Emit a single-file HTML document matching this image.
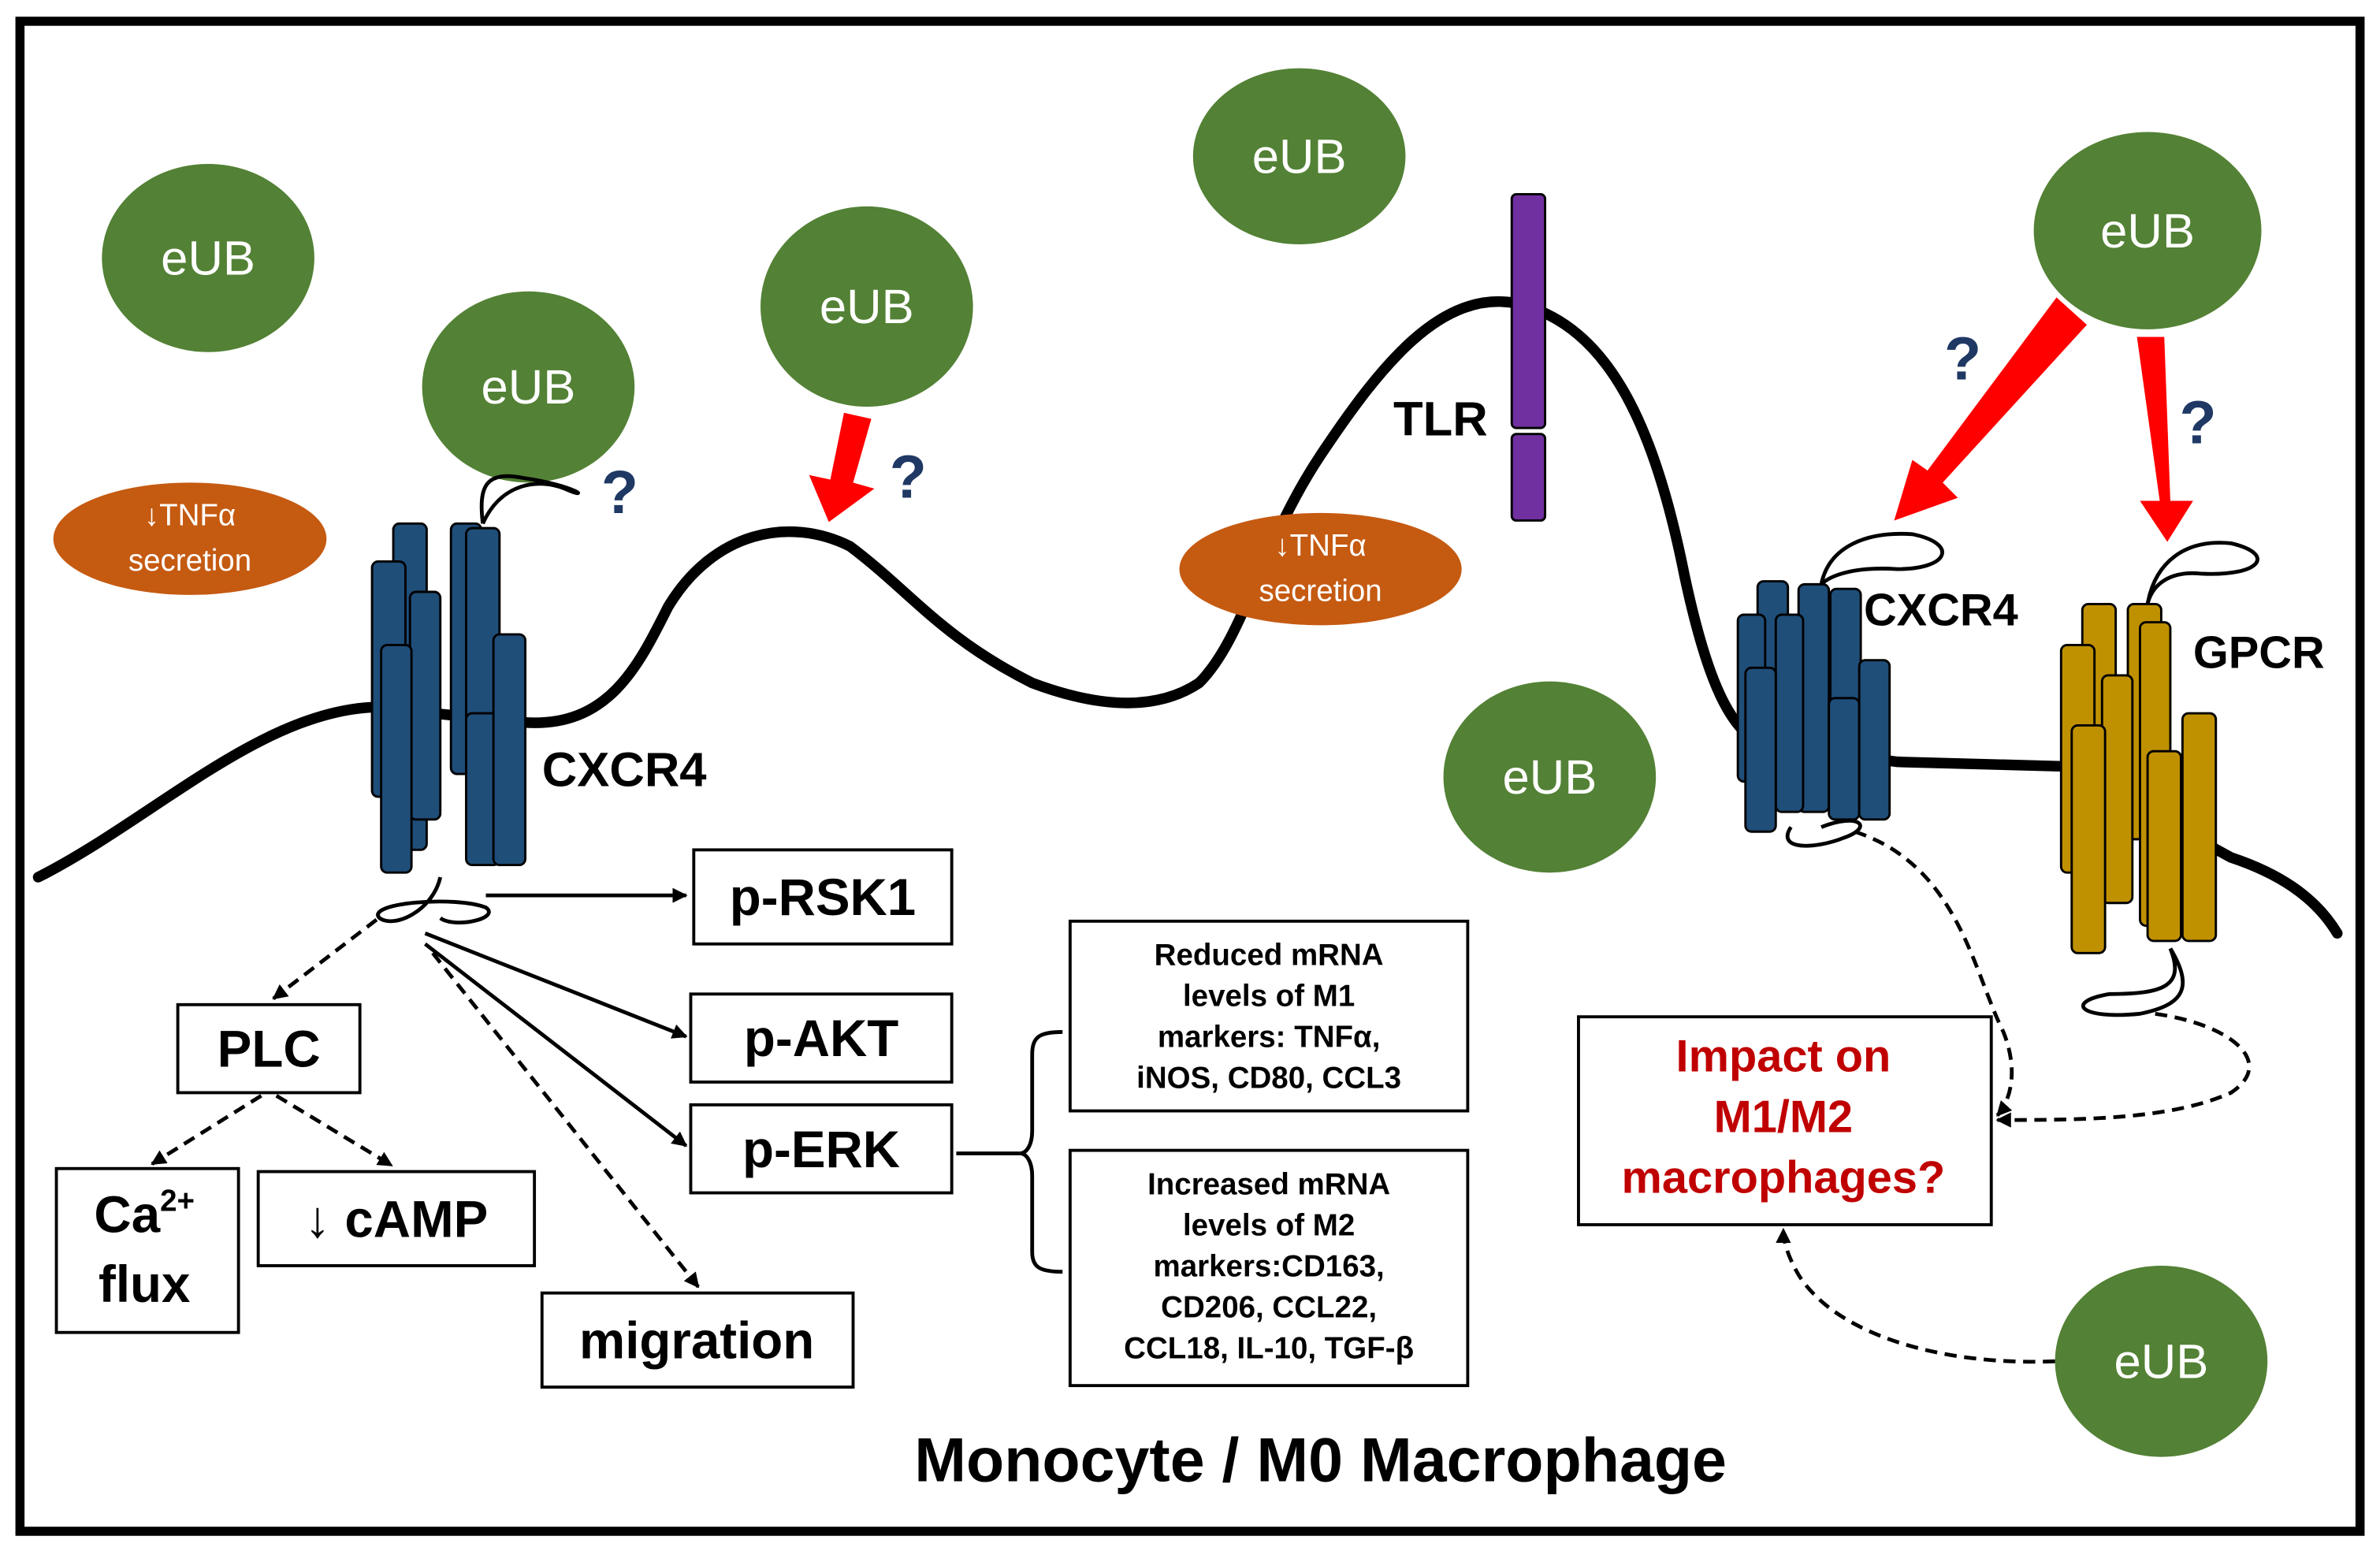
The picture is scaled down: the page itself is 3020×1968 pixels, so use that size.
<!DOCTYPE html>
<html><head><meta charset="utf-8"><style>
html,body{margin:0;padding:0;background:#fff}
svg{display:block}
text{font-family:"Liberation Sans",sans-serif}
</style></head><body>
<svg width="3020" height="1968" viewBox="0 0 1568 1022" xmlns="http://www.w3.org/2000/svg">
<defs>
<marker id="ah" markerWidth="10" markerHeight="10" refX="9" refY="5" orient="auto" markerUnits="userSpaceOnUse"><path d="M0,0 L10,5 L0,10 z" fill="#000"/></marker>
</defs>
<rect x="0" y="0" width="1568" height="1022" fill="#fff"/>
<rect x="13" y="14" width="1542" height="995" fill="none" stroke="#000" stroke-width="6"/>
<path d="M25,578 C100,540 170,470 245,466 L345,476 C400,480 420,440 440,400 C470,350 520,340 560,360 C600,390 620,420 680,450 C720,465 760,470 790,450 C820,420 830,360 870,300 C910,240 950,190 1000,200 C1060,215 1090,280 1110,380 C1125,450 1140,480 1160,490 L1250,502 L1360,505 L1470,565 C1500,575 1525,590 1540,615" fill="none" stroke="#000" stroke-width="7" stroke-linecap="round"/>
<g fill="#538135">
<ellipse cx="137" cy="170" rx="70" ry="62"/>
<ellipse cx="348" cy="255" rx="70" ry="63"/>
<ellipse cx="571" cy="202" rx="70" ry="66"/>
<ellipse cx="856" cy="103" rx="70" ry="58"/>
<ellipse cx="1415" cy="152" rx="75" ry="65"/>
<ellipse cx="1021" cy="512" rx="70" ry="63"/>
<ellipse cx="1424" cy="897" rx="70" ry="63"/>
</g>
<g fill="#fff" font-size="32" text-anchor="middle">
<text x="137" y="181">eUB</text><text x="348" y="266">eUB</text><text x="571" y="213">eUB</text>
<text x="856" y="114">eUB</text><text x="1415" y="163">eUB</text><text x="1021" y="523">eUB</text><text x="1424" y="908">eUB</text>
</g>
<ellipse cx="125" cy="355" rx="90" ry="37" fill="#c55a11"/>
<ellipse cx="870" cy="375" rx="93" ry="37" fill="#c55a11"/>
<g fill="#fff" font-size="20" text-anchor="middle">
<text x="125" y="346">↓TNFα</text><text x="125" y="376">secretion</text>
<text x="870" y="366">↓TNFα</text><text x="870" y="396">secretion</text>
</g>
<path d="M318,345 C315,320 320,310 345,315 C380,320 390,330 372,322 C355,315 330,318 318,345" fill="none" stroke="#000" stroke-width="2.5"/>
<path d="M290,578 C285,600 260,612 250,605 C240,595 300,590 320,598 C330,605 300,612 290,605" fill="none" stroke="#000" stroke-width="2.5"/>
<g fill="#1f4e79" stroke="#000" stroke-width="1.5">
<rect x="259" y="345" width="22" height="215" rx="4"/>
<rect x="245" y="370" width="22" height="155" rx="4"/>
<rect x="297" y="345" width="20" height="165" rx="4"/>
<rect x="270" y="390" width="20" height="150" rx="4"/>
<rect x="307" y="348" width="22" height="160" rx="4"/>
<rect x="251" y="425" width="20" height="150" rx="4"/>
<rect x="307" y="470" width="22" height="100" rx="4"/>
<rect x="325" y="418" width="21" height="152" rx="4"/>
</g>
<text x="357" y="518" font-size="32" font-weight="bold">CXCR4</text>
<rect x="996" y="128" width="22" height="154" rx="3" fill="#7030a0" stroke="#000" stroke-width="1.5"/>
<rect x="996" y="286" width="22" height="57" rx="3" fill="#7030a0" stroke="#000" stroke-width="1.5"/>
<text x="918" y="287" font-size="32" font-weight="bold">TLR</text>
<path d="M1200,385 C1205,360 1230,350 1260,352 C1290,358 1285,375 1250,375 C1220,373 1205,380 1200,385" fill="none" stroke="#000" stroke-width="2.5"/>
<path d="M1415,398 C1420,370 1440,355 1470,358 C1500,365 1490,380 1450,378 C1430,376 1418,385 1415,398" fill="none" stroke="#000" stroke-width="2.5"/>
<path d="M1180,545 C1170,560 1195,560 1215,552 C1235,545 1225,535 1200,545" fill="none" stroke="#000" stroke-width="2.5"/>
<path d="M1430,625 C1440,650 1425,655 1390,655 C1360,660 1370,672 1410,668 C1440,662 1445,650 1430,625" fill="none" stroke="#000" stroke-width="2.5"/>
<g fill="#1f4e79" stroke="#000" stroke-width="1.5">
<rect x="1158" y="383" width="20" height="125" rx="4"/>
<rect x="1185" y="385" width="20" height="150" rx="4"/>
<rect x="1206" y="388" width="20" height="108" rx="4"/>
<rect x="1145" y="405" width="18" height="110" rx="4"/>
<rect x="1170" y="405" width="18" height="130" rx="4"/>
<rect x="1150" y="440" width="20" height="108" rx="4"/>
<rect x="1205" y="460" width="20" height="80" rx="4"/>
<rect x="1225" y="435" width="20" height="105" rx="4"/>
</g>
<text x="1228" y="412" font-size="30" font-weight="bold">CXCR4</text>
<g fill="#bf9000" stroke="#000" stroke-width="1.5">
<rect x="1372" y="398" width="22" height="195" rx="4"/>
<rect x="1358" y="425" width="22" height="150" rx="4"/>
<rect x="1402" y="398" width="22" height="155" rx="4"/>
<rect x="1385" y="445" width="20" height="150" rx="4"/>
<rect x="1410" y="410" width="20" height="200" rx="4"/>
<rect x="1365" y="478" width="22" height="150" rx="4"/>
<rect x="1415" y="495" width="22" height="125" rx="4"/>
<rect x="1438" y="470" width="22" height="150" rx="4"/>
</g>
<text x="1445" y="440" font-size="30" font-weight="bold">GPCR</text>
<g fill="#ff0000">
<polygon points="556,272 574,276 562,318 576,322 546,344 533,313 547,316"/>
<polygon points="1355,196 1375,214 1280,318 1290,328 1248,343 1260,303 1270,310"/>
<polygon points="1408,222 1426,222 1430,330 1445,330 1428,357 1410,330 1423,330"/>
</g>
<g fill="#1f3864" font-size="40" font-weight="bold">
<text x="396" y="338">?</text><text x="586" y="328">?</text><text x="1281" y="250">?</text><text x="1436" y="292">?</text>
</g>
<g fill="#fff" stroke="#000" stroke-width="2">
<rect x="457" y="560" width="170" height="62"/>
<rect x="455" y="655" width="172" height="58"/>
<rect x="455" y="728" width="172" height="58"/>
<rect x="117" y="662" width="120" height="58"/>
<rect x="37" y="770" width="120" height="108"/>
<rect x="170" y="772" width="182" height="62"/>
<rect x="357" y="852" width="205" height="62"/>
<rect x="705" y="607" width="262" height="125"/>
<rect x="705" y="758" width="262" height="155"/>
<rect x="1040" y="670" width="272" height="137"/>
</g>
<g font-size="34" font-weight="bold" text-anchor="middle">
<text x="542" y="603">p-RSK1</text>
<text x="541" y="696">p-AKT</text>
<text x="541" y="769">p-ERK</text>
<text x="177" y="703">PLC</text>
<text x="95" y="812">Ca<tspan font-size="20" dy="-14">2+</tspan></text>
<text x="95" y="858">flux</text>
<text x="261" y="815">↓ cAMP</text>
<text x="459" y="895">migration</text>
</g>
<g font-size="20" font-weight="bold" text-anchor="middle">
<text x="836" y="636">Reduced mRNA</text>
<text x="836" y="663">levels of M1</text>
<text x="836" y="690">markers: TNFα,</text>
<text x="836" y="717">iNOS, CD80, CCL3</text>
<text x="836" y="787">Increased mRNA</text>
<text x="836" y="814">levels of M2</text>
<text x="836" y="841">markers:CD163,</text>
<text x="836" y="868">CD206, CCL22,</text>
<text x="836" y="895">CCL18, IL-10, TGF-β</text>
</g>
<g font-size="30" font-weight="bold" fill="#c00000" text-anchor="middle">
<text x="1175" y="706">Impact on</text>
<text x="1175" y="746">M1/M2</text>
<text x="1175" y="786">macrophages?</text>
</g>
<g stroke="#000" stroke-width="2.5" fill="none">
<line x1="320" y1="590" x2="452" y2="590" marker-end="url(#ah)"/>
<line x1="280" y1="615" x2="452" y2="683" marker-end="url(#ah)"/>
<line x1="280" y1="622" x2="452" y2="755" marker-end="url(#ah)"/>
<line x1="285" y1="628" x2="460" y2="848" stroke-dasharray="8,5" marker-end="url(#ah)"/>
<line x1="248" y1="606" x2="180" y2="658" stroke-dasharray="8,5" marker-end="url(#ah)"/>
<line x1="172" y1="722" x2="100" y2="767" stroke-dasharray="8,5" marker-end="url(#ah)"/>
<line x1="182" y1="722" x2="258" y2="768" stroke-dasharray="8,5" marker-end="url(#ah)"/>
<line x1="630" y1="760" x2="672" y2="760"/>
<path d="M700,680 C685,680 680,683 680,695 L680,745 C680,755 676,760 672,760 C676,760 680,765 680,775 L680,825 C680,835 685,838 700,838"/>
<path d="M1222,548 C1290,570 1300,640 1320,680 C1330,705 1325,725 1316,735" stroke-dasharray="8,5" marker-end="url(#ah)"/>
<path d="M1420,668 C1470,675 1500,700 1470,720 C1430,738 1370,738 1316,738" stroke-dasharray="8,5" marker-end="url(#ah)"/>
<path d="M1354,897 C1280,900 1210,880 1185,840 C1178,828 1175,818 1175,810" stroke-dasharray="8,5" marker-end="url(#ah)"/>
</g>
<text x="870" y="976" font-size="41" font-weight="bold" text-anchor="middle">Monocyte / M0 Macrophage</text>
</svg>
</body></html>
